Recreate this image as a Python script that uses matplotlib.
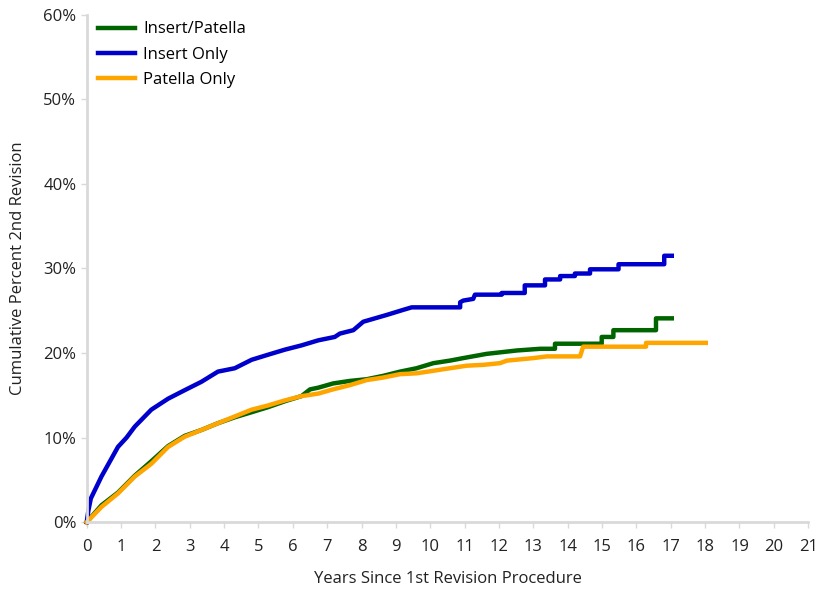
import matplotlib.pyplot as plt
from matplotlib.ticker import FuncFormatter, MultipleLocator

plt.rcParams['font.family'] = ['Open Sans', 'DejaVu Sans']

# cumulative percent of 2nd revision (repeated x = step jump)
ip_years = [0, 0.43, 0.91, 1.40, 1.88, 2.37, 2.85, 3.34, 3.82, 4.31, 4.80, 5.28,
            5.77, 6.25, 6.50, 6.74, 7.17, 7.66, 8.15, 8.63, 9.12, 9.60, 10.09,
            10.57, 10.96, 11.64, 12.52, 13.2, 13.63, 13.63, 14.99, 14.99, 15.33,
            15.33, 16.57, 16.57, 17.03]
ip_pct = [0, 2.0, 3.5, 5.5, 7.2, 9.0, 10.2, 10.9, 11.7, 12.4, 13.0, 13.6,
          14.3, 14.9, 15.7, 15.9, 16.4, 16.7, 16.9, 17.3, 17.8, 18.2, 18.8,
          19.1, 19.4, 19.9, 20.3, 20.5, 20.5, 21.1, 21.1, 21.9, 21.9,
          22.7, 22.7, 24.1, 24.1]

io_years = [0, 0.05, 0.12, 0.43, 0.91, 1.16, 1.40, 1.88, 2.37, 2.85, 3.34, 3.82,
            4.31, 4.80, 5.28, 5.77, 6.25, 6.74, 7.22, 7.37, 7.76, 8.05, 8.73,
            9.21, 9.46, 10.87, 10.87, 10.96, 11.25, 11.3, 12.08, 12.08, 12.75,
            12.75, 13.34, 13.34, 13.78, 13.78, 14.21, 14.21, 14.65, 14.65,
            15.48, 15.48, 16.81, 16.81, 17.03]
io_pct = [0, 1.4, 2.8, 5.4, 8.9, 10.0, 11.3, 13.3, 14.6, 15.6, 16.6, 17.8,
          18.2, 19.2, 19.8, 20.4, 20.9, 21.5, 21.9, 22.3, 22.7, 23.7, 24.5,
          25.1, 25.4, 25.4, 26.0, 26.2, 26.4, 26.9, 26.9, 27.1, 27.1,
          28.0, 28.0, 28.7, 28.7, 29.1, 29.1, 29.4, 29.4, 29.9,
          29.9, 30.5, 30.5, 31.5, 31.5]

po_years = [0, 0.43, 0.91, 1.40, 1.88, 2.37, 2.85, 3.34, 3.82, 4.31, 4.80, 5.28,
            5.77, 6.25, 6.74, 7.17, 7.66, 8.15, 8.63, 9.12, 9.60, 10.09, 10.57,
            11.06, 11.54, 12.03, 12.23, 13.0, 13.39, 14.36, 14.45, 16.28, 16.28,
            18.02]
po_pct = [0, 1.8, 3.4, 5.4, 6.9, 8.9, 10.1, 10.9, 11.7, 12.5, 13.3, 13.8,
          14.4, 14.9, 15.2, 15.7, 16.2, 16.8, 17.1, 17.5, 17.6, 17.9, 18.2,
          18.5, 18.6, 18.8, 19.1, 19.4, 19.6, 19.6, 20.75, 20.75, 21.2,
          21.2]

fig = plt.figure(figsize=(8.18, 5.90), dpi=100)
ax = fig.add_axes([0.106, 0.115, 0.882, 0.860])

lw = 3.2
ax.plot(ip_years, ip_pct, color='#006400', lw=lw, label='Insert/Patella', clip_on=False)
ax.plot(io_years, io_pct, color='#0000cd', lw=lw, label='Insert Only', clip_on=False)
ax.plot(po_years, po_pct, color='#ffa500', lw=lw, label='Patella Only', clip_on=False)

ax.set_xlim(0, 21)
ax.set_ylim(0, 60)
ax.xaxis.set_major_locator(MultipleLocator(1))
ax.yaxis.set_major_locator(MultipleLocator(10))
ax.yaxis.set_major_formatter(FuncFormatter(lambda v, p: f'{v:.0f}%'))

for side in ['top', 'right']:
    ax.spines[side].set_visible(False)
for side in ['left', 'bottom']:
    ax.spines[side].set_color('#d9d9d9')
    ax.spines[side].set_linewidth(2)
ax.tick_params(colors='#d9d9d9', labelcolor='#222222', labelsize=12,
               length=4, width=1)
ax.tick_params(axis='x', pad=8)

ax.set_xlabel('Years Since 1st Revision Procedure', fontsize=12, color='#222222', labelpad=12)
ax.set_ylabel('Cumulative Percent 2nd Revision', fontsize=12, color='#222222', labelpad=12)

ax.legend(loc='upper left', bbox_to_anchor=(0.0, 1.01), frameon=False,
          fontsize=12, handlelength=2.2, handletextpad=0.5, labelspacing=0.55,
          borderaxespad=0.3)

fig.savefig('out.png', dpi=100)
